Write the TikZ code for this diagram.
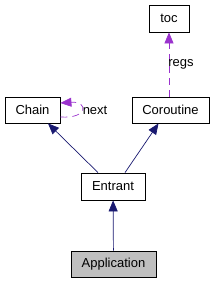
\documentclass[tikz,border=0pt]{standalone}
\usepackage{fontspec}
\setmainfont{Liberation Sans}
\usetikzlibrary{arrows.meta,positioning}
\definecolor{edgenavy}{RGB}{25,25,112}
\definecolor{edgeorchid}{RGB}{154,50,205}
\definecolor{boxgrey}{RGB}{191,191,191}

\begin{document}
\begin{tikzpicture}[x=1pt, y=-1pt,
  classbox/.style={draw, line width=0.8pt, minimum height=26pt, inner sep=0pt, font=\fontsize{13}{15}\selectfont},
  inherit/.style={-{Triangle[length=11pt,width=9pt]}, edgenavy, line width=0.7pt},
  uses/.style={-{Triangle[length=11pt,width=9pt]}, edgeorchid, line width=0.7pt, dash pattern=on 7pt off 5pt},
  lbl/.style={font=\fontsize{13}{15}\selectfont, text=black, inner sep=1pt}]
  \useasboundingbox (0,0) rectangle (212,283);
  \node[classbox, minimum width=40pt, minimum height=27pt] (toc) at (169,18.5) {toc};
  \node[classbox, minimum width=55pt] (chain) at (32.5,110) {Chain};
  \node[classbox, minimum width=77pt] (coroutine) at (170.5,110) {Coroutine};
  \node[classbox, minimum width=64pt, minimum height=27pt] (entrant) at (113,186.5) {Entrant};
  \node[classbox, minimum width=85pt, fill=boxgrey] (application) at (113.5,264) {Application};
  \draw[inherit] (application) -- (entrant);
  \draw[inherit] ([xshift=-15pt]entrant.north) -- ([xshift=15.5pt]chain.south);
  \draw[inherit] ([xshift=12pt]entrant.north) -- ([xshift=-12pt]coroutine.south);
  \draw[uses] (coroutine.north -| toc) -- node[lbl, anchor=west, xshift=-2pt] {regs} (toc);
  \draw[uses] ([yshift=-7pt]chain.east) .. controls +(28,2) and +(28,-2) .. node[lbl, right] {next} ([yshift=7pt]chain.east);
\end{tikzpicture}
\end{document}
